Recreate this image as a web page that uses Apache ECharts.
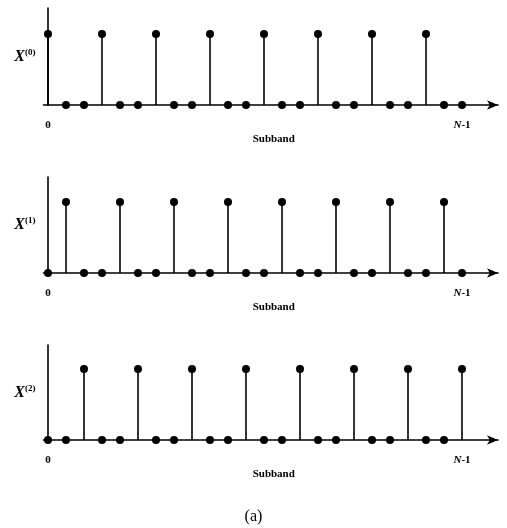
<!DOCTYPE html>
<html><head><meta charset="utf-8">
<script src="https://cdn.jsdelivr.net/npm/echarts@6/dist/echarts.min.js"></script>
<style>html,body{margin:0;padding:0;background:#fff}#c{width:507px;height:528px}</style>
</head><body><div id="c"></div>
<script>
const subbands = [0,1,2,3,4,5,6,7,8,9,10,11,12,13,14,15,16,17,18,19,20,21,22,23];
const x0 = [1,0,0,1,0,0,1,0,0,1,0,0,1,0,0,1,0,0,1,0,0,1,0,0];
const x1 = [0,1,0,0,1,0,0,1,0,0,1,0,0,1,0,0,1,0,0,1,0,0,1,0];
const x2 = [0,0,1,0,0,1,0,0,1,0,0,1,0,0,1,0,0,1,0,0,1,0,0,1];
const panelNames = ['0','1','2'];
const tickLabels = ['0', 'N-1'];
const xTitle = 'Subband';
const caption = '(a)';

const series = [x0, x1, x2];
const tops = [8, 177, 345];
const heights = [97, 96, 95];
const font = 'Liberation Serif';

const chart = echarts.init(document.getElementById('c'));
const grids = [], xAxes = [], yAxes = [], ser = [];
series.forEach((vals, i) => {
  grids.push({left: 43.5, width: 454.5, top: tops[i], height: heights[i]});
  xAxes.push({
    type: 'value', gridIndex: i, min: -0.25, max: 25,
    axisLine: {lineStyle: {color: '#000', width: 1.6}, symbol: ['none', 'arrow'], symbolSize: [7, 11]},
    axisTick: {show: false}, splitLine: {show: false},
    axisLabel: {
      customValues: [subbands[0], subbands[subbands.length - 1]],
      margin: 15, color: '#000', fontFamily: font, fontWeight: 'bold', fontSize: 11,
      formatter: v => v === subbands[0] ? tickLabels[0] : '{i|N}-1',
      rich: {i: {fontStyle: 'italic', fontWeight: 'bold', fontFamily: font, fontSize: 11, color: '#000'}}
    },
    name: xTitle, nameLocation: 'middle', nameGap: 29,
    nameTextStyle: {color: '#000', fontFamily: font, fontWeight: 'bold', fontSize: 11, padding: [0, 0, 0, 6]}
  });
  yAxes.push({
    type: 'value', gridIndex: i, min: 0, max: heights[i] / 71,
    axisLine: {show: true, lineStyle: {color: '#000', width: 1.6}},
    axisTick: {show: false}, axisLabel: {show: false}, splitLine: {show: false},
    name: '{x|X}{s|(' + panelNames[i] + ')}', nameLocation: 'middle', nameRotate: 0, nameGap: 8,
    nameTextStyle: {align: 'right', rich: {
      x: {fontFamily: font, fontWeight: 'bold', fontStyle: 'italic', fontSize: 16, color: '#000'},
      s: {fontFamily: font, fontWeight: 'bold', fontSize: 9, color: '#000', verticalAlign: 'top', padding: [0, 0, 8, 0]}
    }}
  });
  const pts = subbands.map((s, k) => [s, vals[k]]);
  ser.push({type: 'bar', xAxisIndex: i, yAxisIndex: i, data: pts, barWidth: 1.6,
    itemStyle: {color: '#000'}, silent: true});
  ser.push({type: 'scatter', xAxisIndex: i, yAxisIndex: i, data: pts, symbolSize: 8,
    itemStyle: {color: '#000', opacity: 1}, silent: true});
});
chart.setOption({
  animation: false,
  grid: grids, xAxis: xAxes, yAxis: yAxes, series: ser,
  title: {text: caption, left: 'center', top: 504, textStyle: {fontFamily: font, fontWeight: 'normal', fontSize: 16, color: '#000'}}
});
</script></body></html>
